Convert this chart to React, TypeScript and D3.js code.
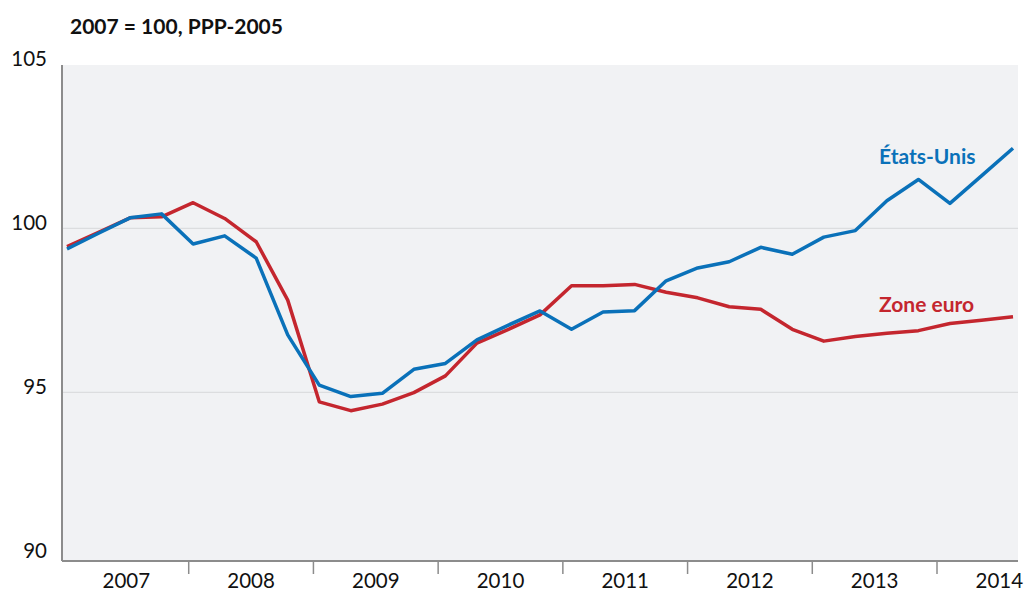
import React from "react";
import * as d3 from "d3";

// quarterly index, 2007Q1 .. 2014Q3 (2007 = 100, PPP-2005)
const quarters = [
  "2007T1", "2007T2", "2007T3", "2007T4",
  "2008T1", "2008T2", "2008T3", "2008T4",
  "2009T1", "2009T2", "2009T3", "2009T4",
  "2010T1", "2010T2", "2010T3", "2010T4",
  "2011T1", "2011T2", "2011T3", "2011T4",
  "2012T1", "2012T2", "2012T3", "2012T4",
  "2013T1", "2013T2", "2013T3", "2013T4",
  "2014T1", "2014T2", "2014T3",
];

const etatsUnis = [
  99.37, 99.85, 100.32, 100.44,
  99.52, 99.77, 99.09, 96.75,
  95.22, 94.87, 94.97, 95.70,
  95.88, 96.60, 97.05, 97.48,
  96.92, 97.45, 97.49, 98.40,
  98.79, 98.98, 99.42, 99.21,
  99.73, 99.93, 100.84, 101.49,
  100.76, 101.60, 102.44,
];

const zoneEuro = [
  99.44, 99.88, 100.32, 100.35,
  100.78, 100.30, 99.59, 97.81,
  94.71, 94.44, 94.64, 94.99,
  95.50, 96.50, 96.92, 97.36,
  98.25, 98.25, 98.29, 98.05,
  97.88, 97.61, 97.53, 96.92,
  96.56, 96.70, 96.80, 96.88,
  97.10, 97.20, 97.30,
];

const years = [2007, 2008, 2009, 2010, 2011, 2012, 2013, 2014];
const yTicks = [90, 95, 100, 105];
const gridValues = [95, 100];

const BLUE = "#0a71b9";
const RED = "#c4262e";
const FONT = "Lato, 'Open Sans', sans-serif";

export default function App() {
  const width = 1032;
  const height = 592;
  const plot = { left: 62, right: 1018, top: 65, bottom: 561 };

  const x = d3.scaleLinear().domain([0, quarters.length - 1]).range([67, 1013]);
  const xYear = d3.scaleLinear().domain([2007, 2014]).range([64, 937]);
  const y = d3.scaleLinear().domain([90, 105]).range([556.3, 64.3]);

  const line = d3
    .line<number>()
    .x((_, i) => x(i))
    .y((d) => y(d));

  const yearWidth = xYear(2008) - xYear(2007);

  return (
    <svg width={width} height={height} style={{ position: "absolute", left: 0, top: 0 }}>
      <rect x={0} y={0} width={width} height={height} fill="#ffffff" />
      <text x={70} y={34} fontFamily={FONT} fontWeight={700} fontSize={21} fill="#111">
        2007 = 100, PPP-2005
      </text>

      <rect
        x={plot.left}
        y={plot.top}
        width={plot.right - plot.left}
        height={plot.bottom - plot.top}
        fill="#f1f2f4"
      />
      {gridValues.map((v) => (
        <line key={v} x1={plot.left} x2={plot.right} y1={y(v)} y2={y(v)} stroke="#dcdddf" strokeWidth={1.2} />
      ))}

      {yTicks.map((v) => (
        <text
          key={v}
          x={47}
          y={y(v) - 3}
          textAnchor="end"
          dominantBaseline="middle"
          fontFamily={FONT}
          fontSize={20.5}
          fill="#111"
        >
          {v}
        </text>
      ))}

      {years.slice(1).map((yr) => (
        <line key={yr} x1={xYear(yr)} x2={xYear(yr)} y1={plot.bottom} y2={574} stroke="#8c8c8c" strokeWidth={1.5} />
      ))}
      {years.map((yr) => (
        <text
          key={yr}
          x={xYear(yr) + yearWidth / 2}
          y={588}
          textAnchor="middle"
          fontFamily={FONT}
          fontSize={20.5}
          fill="#111"
        >
          {yr}
        </text>
      ))}

      <line x1={plot.left} x2={plot.right} y1={plot.bottom} y2={plot.bottom} stroke="#8c8c8c" strokeWidth={2} />
      <line x1={plot.left} x2={plot.left} y1={plot.top} y2={plot.bottom} stroke="#8c8c8c" strokeWidth={2} />

      <path d={line(zoneEuro) || ""} fill="none" stroke={RED} strokeWidth={3.5} strokeLinejoin="round" />
      <path d={line(etatsUnis) || ""} fill="none" stroke={BLUE} strokeWidth={3.5} strokeLinejoin="round" />

      <text x={879} y={164} fontFamily={FONT} fontWeight={700} fontSize={21} fill={BLUE}>
        États-Unis
      </text>
      <text x={879} y={312} fontFamily={FONT} fontWeight={700} fontSize={21} fill={RED}>
        Zone euro
      </text>
    </svg>
  );
}
